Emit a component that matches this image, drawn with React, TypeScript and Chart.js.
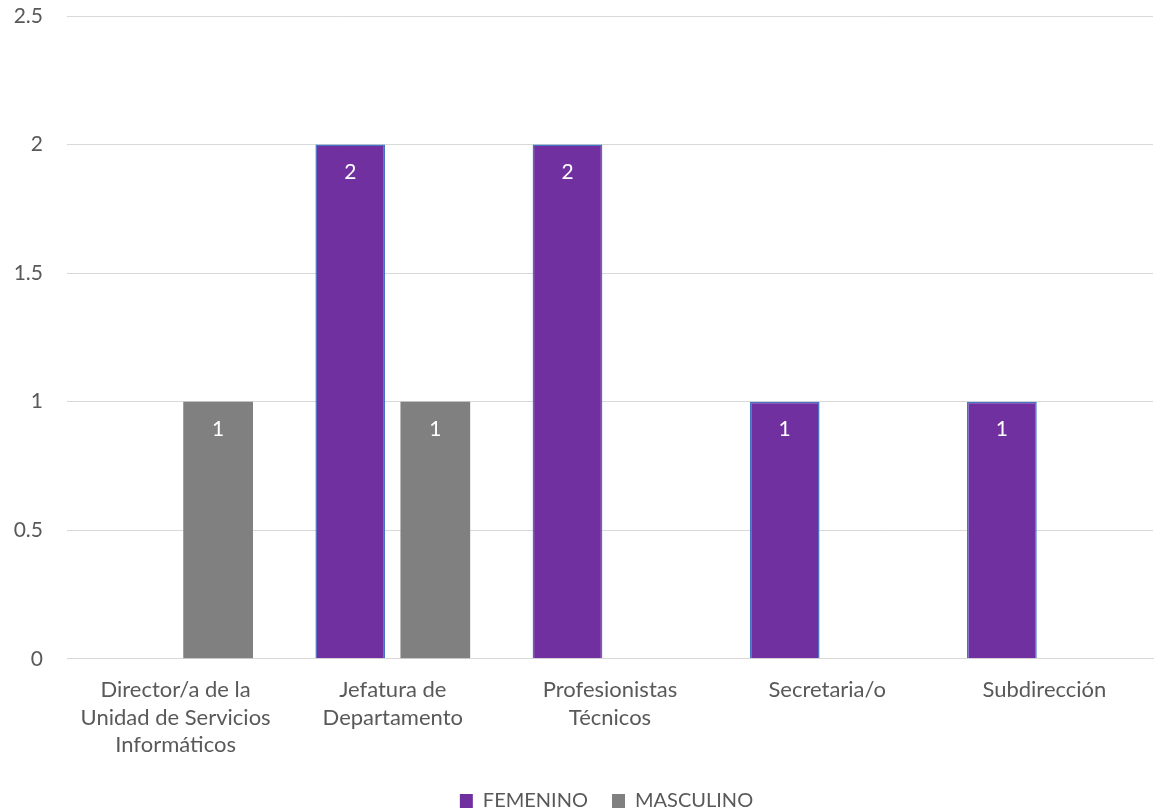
import React, { useEffect, useRef } from "react";
import { Chart, registerables } from "chart.js";

Chart.register(...registerables);

const categories: string[][] = [
  ["Director/a de la", "Unidad de Servicios", "Informáticos"],
  ["Jefatura de", "Departamento"],
  ["Profesionistas", "Técnicos"],
  ["Secretaria/o"],
  ["Subdirección"],
];
const femenino = [0, 2, 2, 1, 1];
const masculino = [1, 1, 0, 0, 0];
const yTicks = [0, 0.5, 1, 1.5, 2, 2.5];

const FONT = "Lato, 'Open Sans', sans-serif";
const TXT = "#595959";
const FS = 22;

const labelPlugin = {
  id: "valueLabels",
  afterLayout(chart: any) {
    if (chart.legend) chart.legend.left += 60;
  },
  afterDatasetsDraw(chart: any) {
    const ctx = chart.ctx;
    ctx.save();
    ctx.font = `21px ${FONT}`;
    ctx.fillStyle = "#ffffff";
    ctx.textAlign = "center";
    ctx.textBaseline = "middle";
    chart.data.datasets.forEach((ds: any, i: number) => {
      const meta = chart.getDatasetMeta(i);
      meta.data.forEach((bar: any, j: number) => {
        const v = ds.data[j];
        if (!v) return;
        ctx.fillText(String(v), bar.x, bar.y + 28);
      });
    });
    ctx.restore();
  },
};

export default function App() {
  const ref = useRef<HTMLCanvasElement>(null);
  useEffect(() => {
    const chart = new Chart(ref.current!, {
      type: "bar",
      data: {
        labels: categories,
        datasets: [
          {
            label: "FEMENINO",
            data: femenino,
            backgroundColor: "#7030A0",
            borderColor: "#4472C4",
            borderWidth: (c: any) => (c.raw ? 1.5 : 0),
            borderSkipped: "bottom",
          },
          {
            label: "MASCULINO",
            data: masculino,
            backgroundColor: "#808080",
            borderWidth: 0,
          },
        ],
      },
      options: {
        responsive: false,
        animation: false,
        maintainAspectRatio: false,
        layout: { padding: { left: 0, right: 16, top: 0, bottom: -9 } },
        datasets: { bar: { categoryPercentage: 0.783, barPercentage: 0.82 } },
        scales: {
          x: {
            grid: { display: false, drawTicks: false },
            border: { display: true, color: "#d9d9d9" },
            afterFit: (axis: any) => {
              axis.height = axis.height - 9;
            },
            ticks: {
              color: TXT,
              font: { family: FONT, size: FS, lineHeight: 1.23 },
              padding: 18,
              maxRotation: 0,
              autoSkip: false,
            },
          },
          y: {
            min: 0,
            max: 2.5,
            afterBuildTicks: (axis: any) => {
              axis.ticks = yTicks.map((v) => ({ value: v }));
            },
            afterFit: (axis: any) => {
              axis.width = 67;
              axis.paddingTop = 16;
              axis.paddingBottom = 12;
            },
            grid: { color: "#d9d9d9", drawTicks: false },
            border: { display: false },
            ticks: {
              color: TXT,
              font: { family: FONT, size: 21 },
              padding: 24,
              callback: (v: any) => String(v),
            },
          },
        },
        plugins: {
          tooltip: { enabled: false },
          legend: {
            position: "bottom",
            labels: {
              color: TXT,
              font: { family: FONT, size: 20 },
              boxWidth: 13,
              boxHeight: 14,
              padding: 24,
            },
          },
        },
      },
      plugins: [labelPlugin],
    } as any);
    return () => chart.destroy();
  }, []);
  return (
    <div style={{ position: "absolute", left: 0, top: 0, width: 1169, height: 812 }}>
      <canvas ref={ref} width={1169} height={812} />
    </div>
  );
}
